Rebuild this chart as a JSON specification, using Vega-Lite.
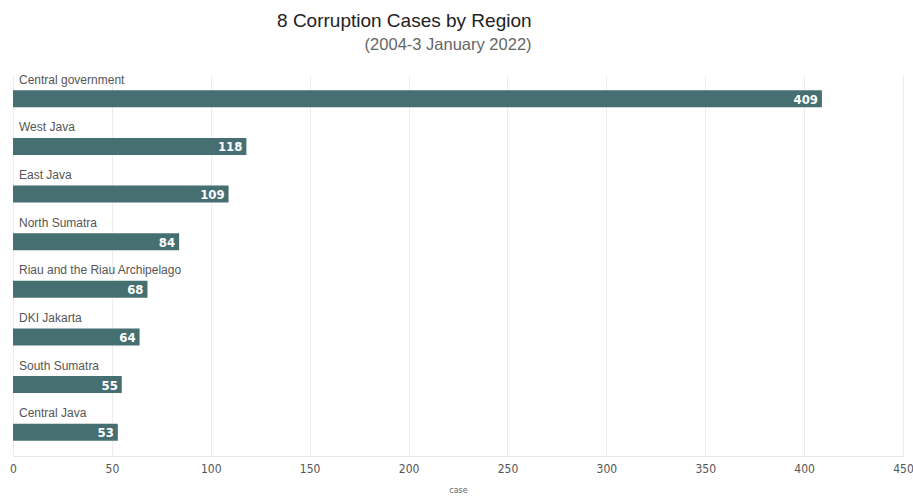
{
  "$schema": "https://vega.github.io/schema/vega-lite/v6.json",
  "autosize": {"type": "none"},
  "padding": {"left": 13, "top": 75, "right": 10, "bottom": 41},
  "width": 890,
  "height": 381,
  "background": "white",
  "title": {
    "text": "8 Corruption Cases by Region",
    "subtitle": "(2004-3 January 2022)",
    "anchor": "start",
    "align": "right",
    "dx": 522,
    "offset": 20,
    "font": "Liberation Sans",
    "fontSize": 19,
    "fontWeight": "normal",
    "color": "#222222",
    "subtitleFont": "Liberation Sans",
    "subtitleFontSize": 16.5,
    "subtitleColor": "#666666",
    "subtitlePadding": 6
  },
  "data": {
    "values": [
      {"region": "Central government", "cases": 409},
      {"region": "West Java", "cases": 118},
      {"region": "East Java", "cases": 109},
      {"region": "North Sumatra", "cases": 84},
      {"region": "Riau and the Riau Archipelago", "cases": 68},
      {"region": "DKI Jakarta", "cases": 64},
      {"region": "South Sumatra", "cases": 55},
      {"region": "Central Java", "cases": 53}
    ]
  },
  "encoding": {
    "y": {
      "field": "region",
      "type": "nominal",
      "sort": null,
      "axis": null,
      "scale": {"paddingInner": 0, "paddingOuter": 0}
    }
  },
  "layer": [
    {
      "mark": {"type": "bar", "height": 17, "yOffset": 0, "color": "#466f72"},
      "encoding": {
        "x": {
          "field": "cases",
          "type": "quantitative",
          "title": "case",
          "scale": {"domain": [0, 450]},
          "axis": {
            "values": [0, 50, 100, 150, 200, 250, 300, 350, 400, 450],
            "grid": true,
            "gridColor": "#ececec",
            "ticks": false,
            "domainColor": "#e6e6e6",
            "labelFlush": false,
            "labelFont": "DejaVu Sans Condensed",
            "labelFontSize": 12,
            "labelColor": "#555555",
            "labelPadding": 7,
            "titleFont": "DejaVu Sans",
            "titleFontSize": 8,
            "titleFontWeight": "normal",
            "titleColor": "#666666",
            "titlePadding": 12
          }
        }
      }
    },
    {
      "mark": {
        "type": "text",
        "align": "right",
        "baseline": "middle",
        "dx": -4,
        "yOffset": 1,
        "font": "DejaVu Sans Condensed",
        "fontWeight": "bold",
        "fontSize": 13,
        "color": "white"
      },
      "encoding": {
        "x": {"field": "cases", "type": "quantitative"},
        "text": {"field": "cases", "type": "quantitative"}
      }
    },
    {
      "mark": {
        "type": "text",
        "align": "left",
        "baseline": "middle",
        "dx": 6,
        "yOffset": -19,
        "font": "Liberation Sans",
        "fontSize": 12,
        "color": "#555555"
      },
      "encoding": {
        "x": {"datum": 0, "type": "quantitative"},
        "text": {"field": "region", "type": "nominal"}
      }
    }
  ],
  "config": {"view": {"stroke": null}}
}
